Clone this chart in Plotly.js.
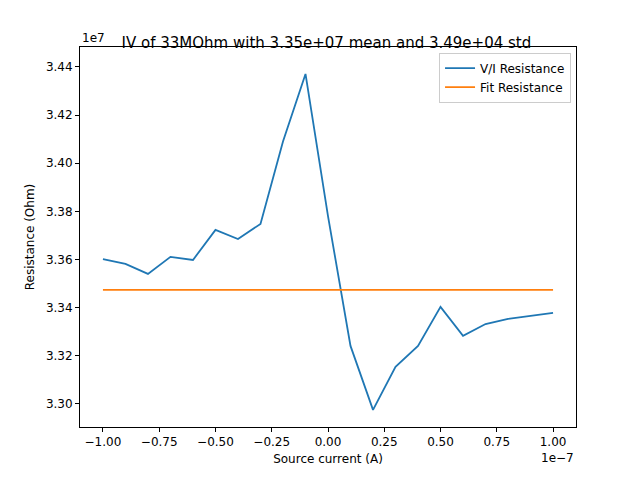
<!DOCTYPE html>
<html>
<head>
<script src="https://cdn.plot.ly/plotly-3.0.1.min.js"></script>
<style>body{margin:0}</style>
</head>
<body>
<div id="graph" style="width:640px;height:480px"></div>
<script>
// source current (A) and V/I resistance (Ohm)
var current = [-1.0e-7,-0.9e-7,-0.8e-7,-0.7e-7,-0.6e-7,-0.5e-7,-0.4e-7,-0.3e-7,-0.2e-7,-0.1e-7,0,
               0.1e-7,0.2e-7,0.3e-7,0.4e-7,0.5e-7,0.6e-7,0.7e-7,0.8e-7,0.9e-7,1.0e-7];
var resistance = [3.3602e7,3.3582e7,3.3540e7,3.3611e7,3.3598e7,3.3723e7,3.3685e7,3.3748e7,3.4090e7,3.4371e7,3.3780e7,
                  3.3241e7,3.2975e7,3.3154e7,3.3241e7,3.3403e7,3.3283e7,3.3332e7,3.3353e7,3.3366e7,3.3378e7];
var fitValue = 3.3474e7;
var xTickLabels = ['−1.00','−0.75','−0.50','−0.25','0.00','0.25','0.50','0.75','1.00'];
var xTicks = [-1.0,-0.75,-0.5,-0.25,0,0.25,0.5,0.75,1.0];
var yTicks = [3.30,3.32,3.34,3.36,3.38,3.40,3.42,3.44];

var fit = current.map(function(){ return fitValue; });

var data = [
  {x: current, y: resistance, type: 'scatter', mode: 'lines', name: 'V/I Resistance', line: {color: '#1f77b4', width: 1.8}},
  {x: current, y: fit, type: 'scatter', mode: 'lines', name: 'Fit Resistance', line: {color: '#ff7f0e', width: 1.8}}
];

var layout = {
  width: 640, height: 480,
  margin: {l: 80, r: 64, t: 47, b: 53},
  font: {family: 'DejaVu Sans', size: 12, color: '#000'},
  paper_bgcolor: '#fff', plot_bgcolor: '#fff',
  title: {text: 'IV of 33MOhm with 3.35e+07 mean and 3.49e+04 std', font: {size: 15}, x: 0.51, y: 0.91, yanchor: 'middle'},
  xaxis: {
    title: {text: 'Source current (A)', standoff: 6, font: {size: 12}},
    range: [-1.102e-7, 1.102e-7],
    tickvals: xTicks.map(function(v){ return v*1e-7; }), ticktext: xTickLabels,
    showgrid: false, zeroline: false, showline: true, mirror: true, linecolor: '#000',
    ticks: 'outside', ticklen: 4, tickcolor: '#000'
  },
  yaxis: {
    title: {text: 'Resistance (Ohm)', standoff: 8, font: {size: 12}},
    range: [3.2904e7, 3.4483e7],
    tickvals: yTicks.map(function(v){ return v*1e7; }), ticktext: yTicks.map(function(v){ return v.toFixed(2); }),
    showgrid: false, zeroline: false, showline: true, mirror: true, linecolor: '#000',
    ticks: 'outside', ticklen: 4, tickcolor: '#000'
  },
  legend: {x: 0.99, y: 0.985, xanchor: 'right', yanchor: 'top', bordercolor: '#ccc', borderwidth: 1, bgcolor: 'rgba(255,255,255,0.8)'},
  annotations: [
    {text: '1e7', xref: 'paper', yref: 'paper', x: 0, y: 1, xanchor: 'left', yanchor: 'bottom', showarrow: false},
    {text: '1e−7', xref: 'paper', yref: 'paper', x: 1, y: 0, xanchor: 'right', yanchor: 'top', showarrow: false, yshift: -22}
  ],
  showlegend: true
};

Plotly.newPlot('graph', data, layout, {staticPlot: true});
</script>
</body>
</html>
